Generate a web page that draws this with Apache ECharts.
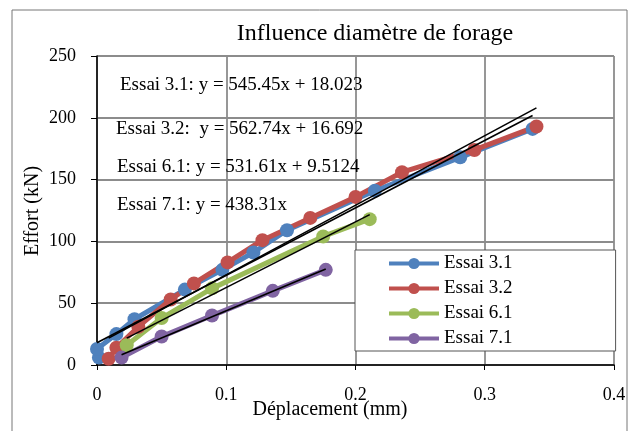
<!DOCTYPE html>
<html><head><meta charset="utf-8">
<script src="https://cdn.jsdelivr.net/npm/echarts@6/dist/echarts.min.js"></script>
<style>html,body{margin:0;padding:0;background:#fff}#c{width:639px;height:431px}</style>
</head><body><div id="c"></div>
<script>
const seriesNames = ['Essai 3.1','Essai 3.2','Essai 6.1','Essai 7.1'];
const colors = ['#4F81BD','#C0504D','#9BBB59','#8064A2'];
const essai31 = [[0.0015,6],[0,13],[0.015,25],[0.029,37],[0.068,61],[0.097,77],[0.121,91],[0.147,109],[0.215,141],[0.281,168],[0.337,191]];
const essai32 = [[0.009,5],[0.015,14],[0.032,31],[0.057,53],[0.075,66],[0.101,83],[0.128,101],[0.165,119],[0.200,136],[0.236,156],[0.292,174],[0.340,193]];
const essai61 = [[0.023,16],[0.050,38],[0.089,62],[0.175,104],[0.211,118]];
const essai71 = [[0.019,6],[0.050,23],[0.089,40],[0.136,60],[0.177,77]];
const trendSlopes = [545.45, 562.74, 531.61, 438.31];
const trendIntercepts = [18.023, 16.692, 9.5124, 0];
const trendRanges = [[0,0.337],[0.009,0.340],[0.023,0.211],[0.019,0.177]];
const equations = ['Essai 3.1: y = 545.45x + 18.023','Essai 3.2:  y = 562.74x + 16.692','Essai 6.1: y = 531.61x + 9.5124','Essai 7.1: y = 438.31x'];
const xTicks = [0,0.1,0.2,0.3,0.4];
const yTicks = [0,50,100,150,200,250];

const chart = echarts.init(document.getElementById('c'));
const font = 'Liberation Serif';
const data = [essai31, essai32, essai61, essai71];
const series = [];
data.forEach((d,i)=>{
  series.push({name:seriesNames[i],type:'line',data:d,color:colors[i],symbol:'circle',symbolSize:14,
    lineStyle:{width:5,color:colors[i]},itemStyle:{color:colors[i]},z:2});
});
trendSlopes.forEach((m,i)=>{
  const r = trendRanges[i];
  series.push({name:'trend'+i,type:'line',data:r.map(x=>[x,m*x+trendIntercepts[i]]),symbol:'none',
    lineStyle:{width:1.6,color:'#000'},z:3,silent:true});
});
const eqPos = [[120,85],[116,129],[117,167],[117,205]];
chart.setOption({
  animation:false,
  textStyle:{fontFamily:font},
  title:{text:'Influence diamètre de forage',left:370,top:17,textAlign:'center',
    textStyle:{fontFamily:font,fontSize:24,fontWeight:'normal',color:'#000'}},
  grid:{left:97,right:25,top:56,bottom:66,containLabel:false},
  xAxis:{type:'value',min:0,max:0.4,interval:0.1,
    axisLine:{lineStyle:{color:'#000',width:1.5}},
    axisTick:{show:true,length:5,lineStyle:{color:'#000'}},
    axisLabel:{color:'#000',fontSize:18,fontFamily:font,margin:21,formatter:v=>String(+v.toFixed(1))},
    splitLine:{show:true,lineStyle:{color:'#8c8c8c',width:1.8}}},
  yAxis:{type:'value',min:0,max:250,interval:50,
    axisLine:{show:true,lineStyle:{color:'#000',width:1.5}},
    axisTick:{show:true,length:6,lineStyle:{color:'#000'}},
    axisLabel:{color:'#000',fontSize:18,fontFamily:font,margin:21},
    splitLine:{show:true,lineStyle:{color:'#8c8c8c',width:1.8}}},
  legend:{data:seriesNames,orient:'vertical',left:355,top:250,itemWidth:50,itemHeight:14,itemGap:6,
    padding:[4,103,3,32],borderColor:'#555',borderWidth:1,backgroundColor:'#fff',
    lineStyle:{width:4},
    textStyle:{fontFamily:font,fontSize:19,color:'#000'}},
  graphic:[
    {type:'rect',shape:{x:12,y:10,width:615,height:440},style:{fill:'none',stroke:'#777',lineWidth:1},silent:true,z:-1},
    {type:'text',x:330,y:410,style:{text:'Déplacement (mm)',font:'20px "Liberation Serif"',fill:'#000',textAlign:'center',textVerticalAlign:'middle'}},
    {type:'text',x:33,y:211,rotation:Math.PI/2,style:{text:'Effort (kN)',font:'20px "Liberation Serif"',fill:'#000',textAlign:'center',textVerticalAlign:'middle'}}
  ].concat(equations.map((t,i)=>({type:'text',x:eqPos[i][0],y:eqPos[i][1],z:10,
     style:{text:t,font:'19px "Liberation Serif"',fill:'#000',textVerticalAlign:'middle'}}))),
  series:series
});
</script></body></html>
